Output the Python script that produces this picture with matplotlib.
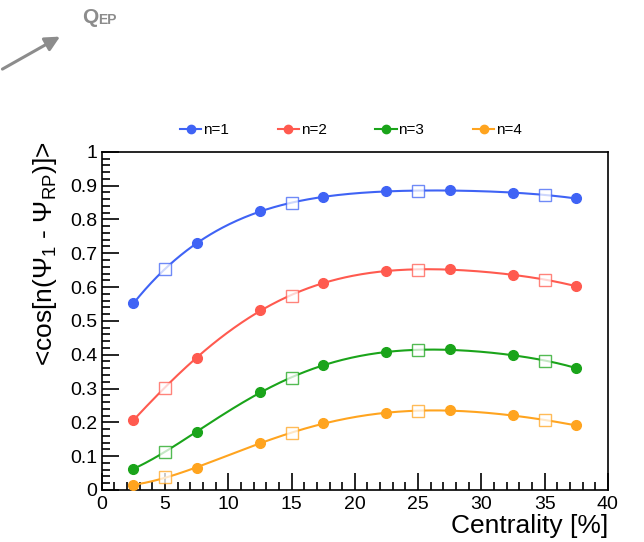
import numpy as np
import matplotlib
matplotlib.use("Agg")
import matplotlib.pyplot as plt
from matplotlib.ticker import MultipleLocator

plt.rcParams['font.family'] = ['Liberation Sans', 'DejaVu Sans']
plt.rcParams['mathtext.fontset'] = 'custom'
plt.rcParams['mathtext.rm'] = 'Liberation Sans'
plt.rcParams['mathtext.it'] = 'Liberation Sans'

# Data
cent_filled = [2.5, 7.5, 12.5, 17.5, 22.5, 27.5, 32.5, 37.5]
cent_open = [5, 15, 25, 35]
labels = ["n=1", "n=2", "n=3", "n=4"]
colors = ["#3f63f5", "#ff5a4f", "#1aa41a", "#ffa41f"]

n1_filled = [0.552, 0.730, 0.825, 0.866, 0.883, 0.886, 0.879, 0.862]
n1_open = [0.652, 0.848, 0.885, 0.872]
n2_filled = [0.207, 0.391, 0.533, 0.611, 0.648, 0.653, 0.637, 0.603]
n2_open = [0.302, 0.574, 0.651, 0.620]
n3_filled = [0.063, 0.172, 0.291, 0.369, 0.408, 0.416, 0.399, 0.361]
n3_open = [0.112, 0.330, 0.413, 0.381]
n4_filled = [0.015, 0.066, 0.139, 0.197, 0.229, 0.235, 0.221, 0.191]
n4_open = [0.037, 0.168, 0.233, 0.206]

filled = [n1_filled, n2_filled, n3_filled, n4_filled]
opened = [n1_open, n2_open, n3_open, n4_open]

fig = plt.figure(figsize=(6.44, 5.42), dpi=100)
ax = fig.add_axes([0.158, 0.096, 0.786, 0.624])

handles = []
for yf, yo, c, lab in zip(filled, opened, colors, labels):
    xs = np.array(cent_filled + cent_open, dtype=float)
    ys = np.array(yf + yo, dtype=float)
    coef = np.polyfit(xs, ys, 5)
    xx = np.linspace(2.5, 37.5, 300)
    ax.plot(xx, np.polyval(coef, xx), color=c, lw=1.5, zorder=2)
    h, = ax.plot(cent_filled, yf, 'o', color=c, ms=7, zorder=3, label=lab,
                 linestyle='-', lw=1.5)
    h.set_linestyle('None')
    ax.plot(cent_open, yo, 's', mfc='white', mec=c, mew=1.0, ms=9, alpha=0.75, zorder=3)
    handles.append(plt.Line2D([], [], color=c, marker='o', ms=6, lw=1.5))

ax.set_xlim(0, 40)
ax.set_ylim(0, 1)
ax.xaxis.set_major_locator(MultipleLocator(5))
ax.xaxis.set_minor_locator(MultipleLocator(1))
ax.yaxis.set_major_locator(MultipleLocator(0.1))
ax.yaxis.set_minor_locator(MultipleLocator(0.02))
ax.tick_params(which='both', direction='in', top=False, right=False, labelsize=14, width=1.2)
ax.tick_params(which='major', length=12)
ax.tick_params(which='minor', length=6)
ax.tick_params(axis='x', pad=4)
ax.tick_params(axis='y', pad=3)
ax.set_yticks(np.arange(0, 1.01, 0.1))
ax.set_yticklabels(['0', '0.1', '0.2', '0.3', '0.4', '0.5', '0.6', '0.7', '0.8', '0.9', '1'])
for s in ax.spines.values():
    s.set_linewidth(1.2)

fig.text(0.944, 0.008, "Centrality [%]", ha='right', va='bottom', fontsize=19)
fig.text(0.07, 0.74, r"<cos[n($\Psi_1$ - $\Psi_{\rm RP}$)]>", rotation=90,
         ha='center', va='top', fontsize=19)

leg = fig.legend(handles=handles, labels=labels, loc='center', bbox_to_anchor=(0.545, 0.76),
                 ncol=4, frameon=False, fontsize=11, handlelength=1.4, handletextpad=0.1,
                 columnspacing=3.2)

# Arrow with label
fig.patches.append(matplotlib.patches.FancyArrowPatch(
    (0.0, 0.87), (0.097, 0.935), transform=fig.transFigure, color='#8c8c8c',
    arrowstyle='-|>', mutation_scale=22, lw=2.2))
fig.text(0.127, 0.968, r"Q", color='#8c8c8c', fontsize=15, fontweight='bold', ha='left', va='center')
fig.text(0.153, 0.963, r"EP", color='#8c8c8c', fontsize=10, fontweight='bold', ha='left', va='center')

fig.savefig("out.png", dpi=100)
